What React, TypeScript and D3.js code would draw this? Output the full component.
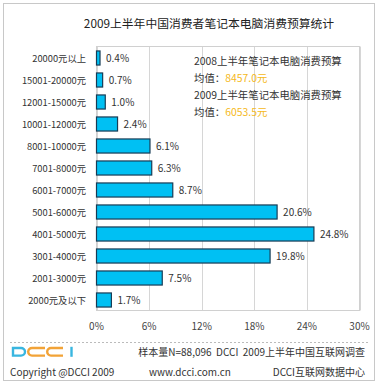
import React from "react";
import * as d3 from "d3";

const categories = [
  "20000元以上",
  "15001-20000元",
  "12001-15000元",
  "10001-12000元",
  "8001-10000元",
  "7001-8000元",
  "6001-7000元",
  "5001-6000元",
  "4001-5000元",
  "3001-4000元",
  "2001-3000元",
  "2000元及以下",
];
const values = [0.4, 0.7, 1.0, 2.4, 6.1, 6.3, 8.7, 20.6, 24.8, 19.8, 7.5, 1.7];
const xTicks = [0, 6, 12, 18, 24, 30];
const title = "2009上半年中国消费者笔记本电脑消费预算统计";
const noteLines = [
  { label: "2008上半年笔记本电脑消费预算", value: null },
  { label: "均值：", value: "8457.0元" },
  { label: "2009上半年笔记本电脑消费预算", value: null },
  { label: "均值：", value: "6053.5元" },
];
const footerLeft = "Copyright @DCCI 2009";
const footerSample = "样本量N=88,096  DCCI  2009上半年中国互联网调查";
const footerUrl = "www.dcci.com.cn";
const footerRight = "DCCI互联网数据中心";

const FONT = "'Noto Sans CJK SC', 'DejaVu Sans', sans-serif";

export default function App() {
  const W = 378;
  const H = 387;
  const left = 96.5;
  const right = 359.5;
  const top = 46.5;
  const bottom = 310.5;

  const x = d3.scaleLinear().domain([0, 30]).range([left, right]);
  const y = d3
    .scaleBand<string>()
    .domain(categories)
    .range([top, bottom])
    .paddingInner(0.36)
    .paddingOuter(0.18);

  const cyan = "#39b6e0";
  const orange = "#f2a337";

  return (
    <svg
      width={W}
      height={H}
      style={{ position: "absolute", left: 0, top: 0, background: "#fff" }}
      fontFamily={FONT}
    >
      <rect x={0} y={0} width={W} height={H} fill="#fff" />
      <rect x={3.5} y={3.5} width={371} height={377} fill="none" stroke="#c8c8c8" />
      <text x={209} y={28} textAnchor="middle" fontSize={11.8} fill="#222">
        {title}
      </text>

      {/* grid */}
      {xTicks.map((t) => (
        <line
          key={t}
          x1={Math.round(x(t)) + 0.5}
          x2={Math.round(x(t)) + 0.5}
          y1={top}
          y2={bottom}
          stroke="#d6d6d6"
        />
      ))}
      <rect
        x={left}
        y={top}
        width={right - left}
        height={bottom - top}
        fill="none"
        stroke="#d0d0d0"
      />

      {/* note */}
      {noteLines.map((l, i) => {
        const ys = [65, 82, 99, 116];
        return (
          <text key={i} x={194} y={ys[i]} fontSize={10.4} fill="#333">
            {l.label}
            {l.value && <tspan fill="#f5b820">{l.value}</tspan>}
          </text>
        );
      })}

      {/* bars */}
      {categories.map((c, i) => (
        <g key={c}>
          <rect
            x={left}
            y={(y(c) as number) + 0.5}
            width={x(values[i]) - left}
            height={y.bandwidth()}
            fill="#00c0f3"
            stroke="#183c55"
            strokeWidth={1.2}
          />
          <text
            x={x(values[i]) + 6}
            y={(y(c) as number) + y.bandwidth() / 2 + 4}
            fontSize={10}
            fill="#333"
          >
            {values[i].toFixed(1)}%
          </text>
          <text
            x={86}
            y={(y(c) as number) + y.bandwidth() / 2 + 4}
            textAnchor="end"
            fontSize={9.3}
            fill="#333"
          >
            {c}
          </text>
        </g>
      ))}

      {/* axis labels */}
      {xTicks.map((t) => (
        <text key={t} x={x(t)} y={330} textAnchor="middle" fontSize={10} fill="#444">
          {t}%
        </text>
      ))}

      <line
        x1={10}
        x2={368}
        y1={342.5}
        y2={342.5}
        stroke="#bbb"
        strokeDasharray="2,2"
      />

      {/* logo */}
      <g fill="none" strokeWidth={2.4}>
        <path d="M13,348 H21 A4,3.8 0 0 1 25,351.8 A4,3.8 0 0 1 21,355.6 H13 Z" stroke={cyan} />
        <path d="M45,348 H32 A3.8,3.8 0 0 0 32,355.6 H45" stroke={orange} />
        <path d="M63,348 H51 A3.8,3.8 0 0 0 51,355.6 H63" stroke={orange} />
        <line x1={71.5} x2={71.5} y1={346.8} y2={356.8} stroke={cyan} />
      </g>

      <text
        x={365}
        y={356}
        textAnchor="end"
        fontSize={10}
        fill="#333"
        style={{ whiteSpace: "pre" }}
      >
        {footerSample}
      </text>
      <text x={10} y={376} fontSize={10} fill="#333">
        {footerLeft}
      </text>
      <text x={190} y={376} textAnchor="middle" fontSize={10} fill="#333">
        {footerUrl}
      </text>
      <text x={365} y={376} textAnchor="end" fontSize={10} fill="#333">
        {footerRight}
      </text>
    </svg>
  );
}
